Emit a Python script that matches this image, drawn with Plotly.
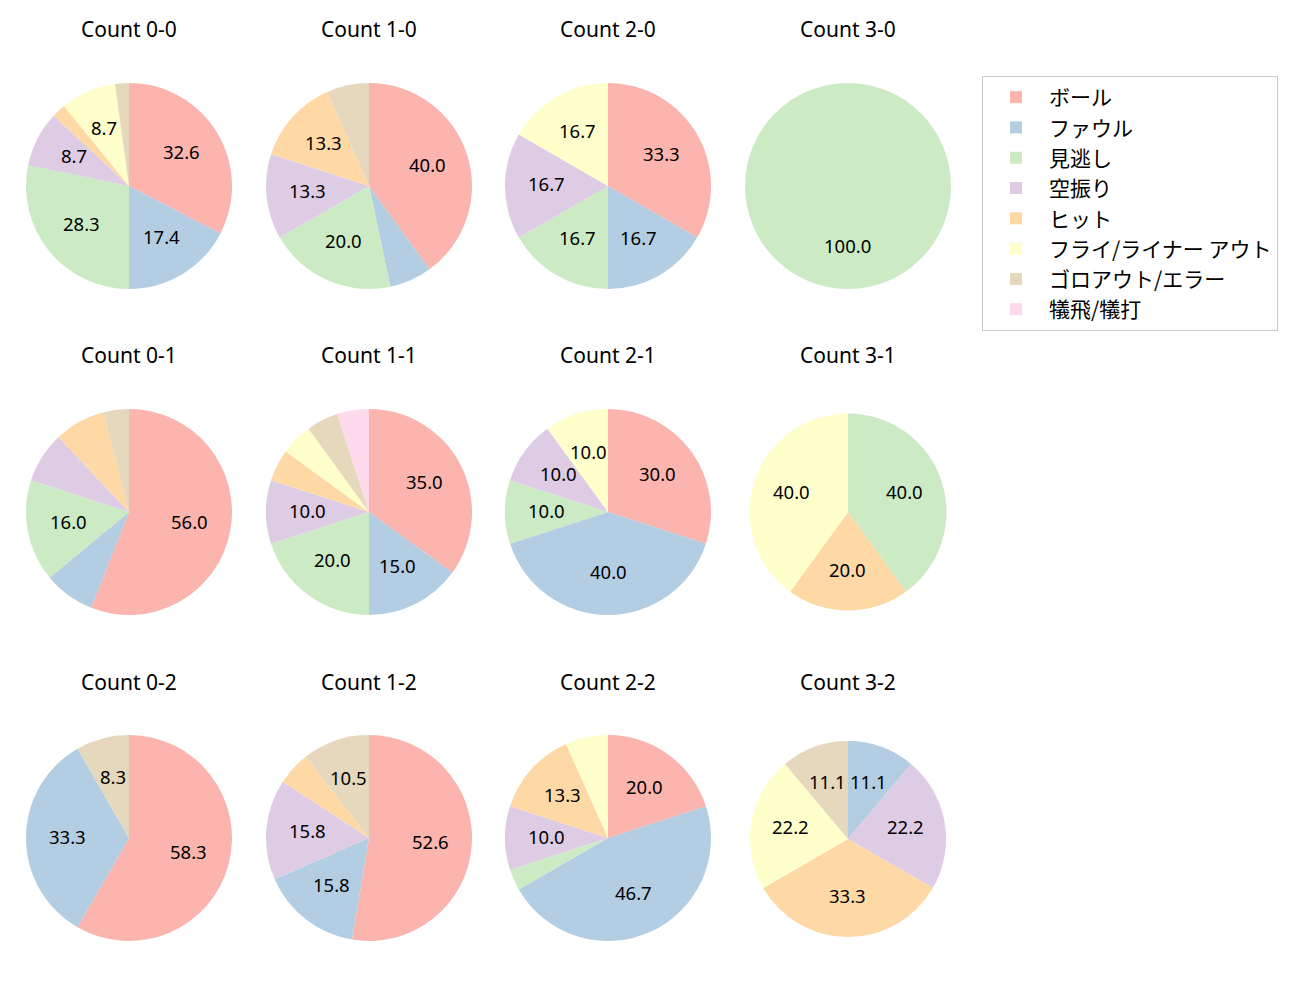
import math
import plotly.graph_objects as go

labels = ["ボール", "ファウル", "見逃し", "空振り", "ヒット",
          "フライ/ライナー アウト", "ゴロアウト/エラー", "犠飛/犠打"]
colors = ["#fbb4ae", "#b3cde3", "#ccebc5", "#decbe4", "#fed9a6",
          "#ffffcc", "#e5d8bd", "#fddaec"]

titles = ["Count 0-0", "Count 1-0", "Count 2-0", "Count 3-0",
          "Count 0-1", "Count 1-1", "Count 2-1", "Count 3-1",
          "Count 0-2", "Count 1-2", "Count 2-2", "Count 3-2"]

# counts per category (order of labels)
c00 = [15, 8, 13, 4, 1, 4, 1, 0]
c10 = [6, 1, 3, 2, 2, 0, 1, 0]
c20 = [2, 1, 1, 1, 0, 1, 0, 0]
c30 = [0, 0, 1, 0, 0, 0, 0, 0]
c01 = [14, 2, 4, 2, 2, 0, 1, 0]
c11 = [7, 3, 4, 2, 1, 1, 1, 1]
c21 = [3, 4, 1, 1, 0, 1, 0, 0]
c31 = [0, 0, 2, 0, 1, 2, 0, 0]
c02 = [7, 4, 0, 0, 0, 0, 1, 0]
c12 = [10, 3, 0, 3, 1, 0, 2, 0]
c22 = [6, 14, 1, 3, 4, 2, 0, 0]
c32 = [0, 1, 0, 2, 3, 2, 1, 0]
series = [c00, c10, c20, c30, c01, c11, c21, c31, c02, c12, c22, c32]

# layout geometry (pixels)
W, H = 1300, 1000
col_cx = [129, 369, 608, 848]
row_cy = [186, 512, 838]
title_y = [29, 355, 682]
radius = [103, 103, 103, 103, 103, 103, 103, 98.5, 103, 103, 103, 98]
center_adj = [(0, 0)] * 11 + [(0, 1)]

LATIN = "Noto Sans"
CJK = "Noto Sans CJK JP"
fig = go.Figure()
annotations = []
for i, vals in enumerate(series):
    r_i, c_i = divmod(i, 4)
    cx = col_cx[c_i] + center_adj[i][0]
    cy = row_cy[r_i] + center_adj[i][1]
    r = radius[i]
    fig.add_trace(go.Pie(
        labels=labels, values=vals, sort=False, direction="clockwise",
        rotation=0, marker=dict(colors=colors, line=dict(width=0)),
        textinfo="none", hoverinfo="label+percent",
        domain=dict(x=[(cx - r) / W, (cx + r) / W],
                    y=[1 - (cy + r) / H, 1 - (cy - r) / H]),
        name=titles[i],
    ))
    total = sum(vals)
    cum = 0
    for v in vals:
        if v > 0:
            pct = 100 * v / total
            if pct >= 8.2:
                ang = math.radians(90 - 360 * (cum + v / 2) / total)
                tx = cx + 0.6 * r * math.cos(ang)
                ty = cy - 0.6 * r * math.sin(ang) - 2
                annotations.append(dict(
                    x=tx / W, y=1 - ty / H, xref="paper", yref="paper",
                    xanchor="center", yanchor="middle",
                    text=f"{pct:.1f}", showarrow=False,
                    font=dict(size=18.5, color="#000", family=LATIN)))
        cum += v
    annotations.append(dict(
        x=col_cx[c_i] / W, y=1 - title_y[r_i] / H, xref="paper", yref="paper",
        xanchor="center", yanchor="middle",
        text=titles[i], showarrow=False,
        font=dict(size=21, color="#000", family=LATIN)))

fig.update_layout(
    width=W, height=H,
    margin=dict(l=0, r=0, t=0, b=0),
    paper_bgcolor="white", plot_bgcolor="white",
    font=dict(family=CJK, color="#000"),
    annotations=annotations,
    legend=dict(x=982 / W, y=1 - 76 / H, xanchor="left", yanchor="top",
                bordercolor="#cccccc", borderwidth=1,
                font=dict(size=21, family=CJK, color="#000"),
                itemwidth=56, traceorder="normal"),
)
fig.write_html("out.html")
